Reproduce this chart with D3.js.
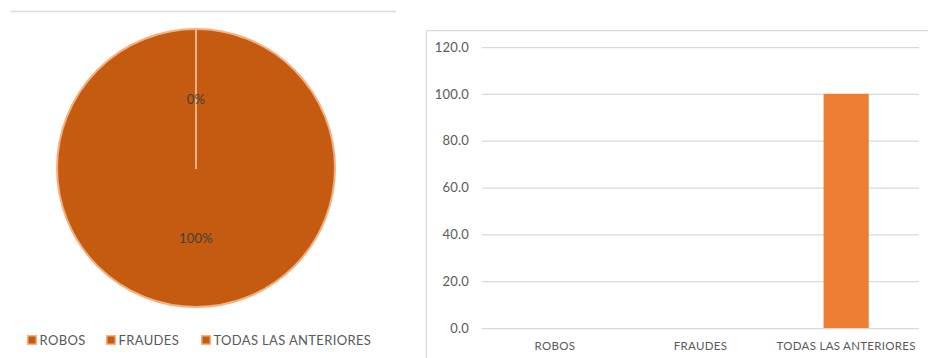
<!DOCTYPE html>
<html>
<head>
<meta charset="utf-8">
<script src="https://cdn.jsdelivr.net/npm/d3@7"></script>
<style>
  html, body { margin: 0; padding: 0; background: #fff; }
  svg { display: block; font-family: Lato, "Open Sans", sans-serif; }
</style>
</head>
<body>
<svg id="chart" width="928" height="358"></svg>
<script>
// Categories and values
const categories = ["ROBOS", "FRAUDES", "TODAS LAS ANTERIORES"];
const pieShares = [0, 0, 100];      // percent of responses
const barValues = [0, 0, 100];      // percent per category
const yTicks = [0, 20, 40, 60, 80, 100, 120];

const pieFill = "#C55A11";
const pieEdge = "#F4B183";
const barFill = "#ED7D31";
const gridColor = "#D9D9D9";
const textColor = "#595959";

const svg = d3.select("#chart");

// ---- Left panel: pie ----
svg.append("line")
  .attr("x1", 11).attr("x2", 396)
  .attr("y1", 11.5).attr("y2", 11.5)
  .attr("stroke", gridColor).attr("stroke-width", 1.5);

const cx = 196, cy = 168, r = 139;
const pie = d3.pie().sort(null).value(d => d.v).startAngle(0).endAngle(2 * Math.PI);
const arcs = pie(categories.map((c, i) => ({ c, v: pieShares[i] })));
const arc = d3.arc().innerRadius(0).outerRadius(r);
const labelArc = d3.arc().innerRadius(0).outerRadius(r);

const pg = svg.append("g").attr("transform", `translate(${cx},${cy})`);
// draw the large slice first, then zero slices on top so their edges show
const order = arcs.slice().sort((a, b) => (b.endAngle - b.startAngle) - (a.endAngle - a.startAngle));
pg.selectAll("path.slice")
  .data(order)
  .join("path")
  .attr("class", "slice")
  .attr("d", arc)
  .attr("fill", pieFill)
  .attr("stroke", pieEdge)
  .attr("stroke-width", 2)
  .attr("stroke-linejoin", "round");

// percentage labels (zero slices share one position)
const seen = new Set();
arcs.forEach(d => {
  const [x, y] = labelArc.centroid(d);
  const key = Math.round(x) + "," + Math.round(y);
  if (seen.has(key)) return;
  seen.add(key);
  pg.append("text")
    .attr("x", x).attr("y", y)
    .attr("text-anchor", "middle")
    .attr("dominant-baseline", "central")
    .attr("font-size", 13)
    .attr("letter-spacing", 0.2)
    .attr("fill", "#404040")
    .text(Math.round(d.data.v) + "%");
});

// legend
const legendX = [27, 106, 201];
const lg = svg.append("g");
categories.forEach((c, i) => {
  const g = lg.append("g").attr("transform", `translate(${legendX[i]},340)`);
  g.append("rect")
    .attr("x", 0.75).attr("y", -4.25)
    .attr("width", 8.5).attr("height", 8.5)
    .attr("fill", pieFill).attr("stroke", pieEdge).attr("stroke-width", 1.5);
  g.append("text")
    .attr("x", 12.5).attr("y", 0)
    .attr("dominant-baseline", "central")
    .attr("font-size", 13)
    .attr("letter-spacing", 0.35)
    .attr("fill", textColor)
    .text(c);
});

// ---- Right panel: bar chart ----
svg.append("path")
  .attr("d", "M426.5,358 V30.5 H928")
  .attr("fill", "none")
  .attr("stroke", gridColor)
  .attr("stroke-width", 1.25);

const x = d3.scaleBand()
  .domain(categories)
  .range([482, 919])
  .paddingInner(0.69)
  .paddingOuter(0.345);

const y = d3.scaleLinear().domain([0, 120]).range([328, 47]);

const yAxis = d3.axisLeft(y).tickValues(yTicks).tickFormat(d3.format(".1f"))
  .tickSize(-(919 - 482)).tickPadding(13);
const ya = svg.append("g").attr("transform", "translate(482,0)").call(yAxis);
ya.select(".domain").remove();
ya.selectAll(".tick line").attr("stroke", gridColor).attr("stroke-width", 1.25);
ya.selectAll(".tick text").attr("fill", textColor).attr("font-size", 13)
  .attr("letter-spacing", 0.2)
  .attr("font-family", "Lato, sans-serif");

svg.append("g")
  .selectAll("rect")
  .data(categories.map((c, i) => ({ c, v: barValues[i] })))
  .join("rect")
  .attr("x", d => x(d.c))
  .attr("width", x.bandwidth())
  .attr("y", d => y(d.v))
  .attr("height", d => y(0) - y(d.v))
  .attr("fill", barFill);

const xAxis = d3.axisBottom(x).tickSize(0).tickPadding(14);
const xa = svg.append("g").attr("transform", "translate(0,328)").call(xAxis);
xa.select(".domain").remove();
xa.selectAll(".tick text").attr("fill", textColor).attr("font-size", 11.5)
  .attr("letter-spacing", 0.3)
  .attr("font-family", "Lato, sans-serif");
</script>
</body>
</html>
